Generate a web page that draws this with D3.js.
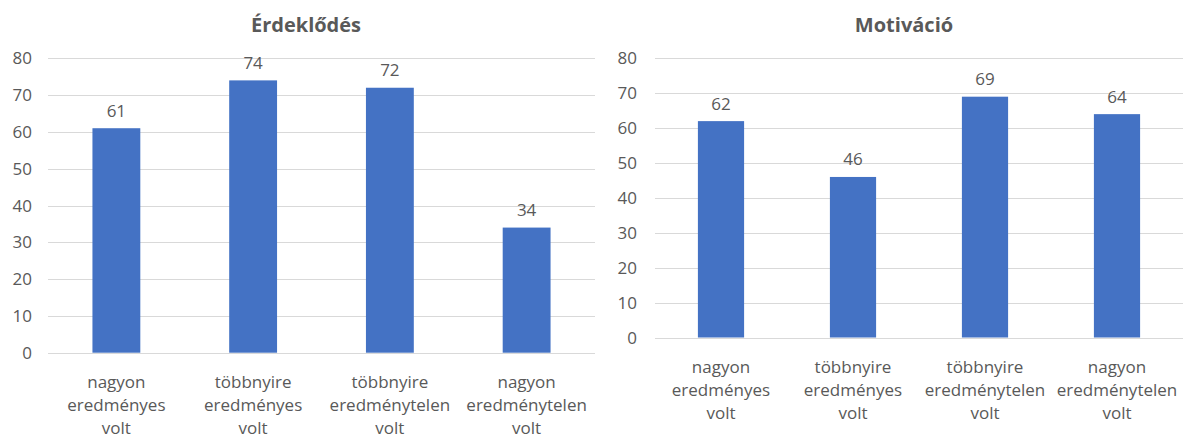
<!DOCTYPE html>
<html>
<head>
<meta charset="utf-8">
<script src="https://cdn.jsdelivr.net/npm/d3@7"></script>
<style>
  html, body { margin: 0; padding: 0; background: #ffffff; }
  svg { display: block; font-family: "Open Sans", "Noto Sans", sans-serif; }
</style>
</head>
<body>
<svg id="chart" width="1186" height="438"></svg>
<script>
const categories = [
  "nagyon eredményes volt",
  "többnyire eredményes volt",
  "többnyire eredménytelen volt",
  "nagyon eredménytelen volt"
];
const categoryLines = [
  ["nagyon", "eredményes", "volt"],
  ["többnyire", "eredményes", "volt"],
  ["többnyire", "eredménytelen", "volt"],
  ["nagyon", "eredménytelen", "volt"]
];
const erdeklodesValues = [61, 74, 72, 34];
const motivacioValues = [62, 46, 69, 64];
const yTicks = [0, 10, 20, 30, 40, 50, 60, 70, 80];
const titles = ["Érdeklődés", "Motiváció"];

const svg = d3.select("#chart");
const textColor = "#595959";
const gridColor = "#d9d9d9";
const barColor = "#4472c4";

const panels = [
  { title: titles[0], values: erdeklodesValues, x0: 48, x1: 595, yTop: 58.3, yBottom: 352.7, tickX: 32, titleX: 306 },
  { title: titles[1], values: motivacioValues, x0: 655, x1: 1183, yTop: 58.3, yBottom: 337.5, tickX: 637, titleX: 904 }
];

panels.forEach(p => {
  const g = svg.append("g");
  const x = d3.scaleBand()
    .domain(categories)
    .range([p.x0, p.x1])
    .paddingInner(0.65)
    .paddingOuter(0.325);
  const y = d3.scaleLinear().domain([0, 80]).range([p.yBottom, p.yTop]);

  // gridlines
  g.selectAll("line.grid").data(yTicks).enter().append("line")
    .attr("x1", p.x0).attr("x2", p.x1)
    .attr("y1", d => Math.round(y(d)) + 0.5).attr("y2", d => Math.round(y(d)) + 0.5)
    .attr("stroke", gridColor).attr("stroke-width", 1);

  // y tick labels
  g.selectAll("text.ytick").data(yTicks).enter().append("text")
    .attr("x", p.tickX).attr("y", d => y(d))
    .attr("dy", "0.36em")
    .attr("text-anchor", "end")
    .attr("font-size", 17).attr("fill", textColor)
    .text(d => d);

  // bars
  g.selectAll("rect.bar").data(p.values).enter().append("rect")
    .attr("x", (d, i) => x(categories[i]))
    .attr("width", x.bandwidth())
    .attr("y", d => y(d))
    .attr("height", d => y(0) - y(d))
    .attr("fill", barColor);

  // value labels
  g.selectAll("text.val").data(p.values).enter().append("text")
    .attr("x", (d, i) => x(categories[i]) + x.bandwidth() / 2)
    .attr("y", d => y(d) - 11.5)
    .attr("text-anchor", "middle")
    .attr("font-size", 17).attr("fill", textColor)
    .text(d => d);

  // x labels
  categoryLines.forEach((lines, i) => {
    const cx = x(categories[i]) + x.bandwidth() / 2;
    const t = g.append("text")
      .attr("text-anchor", "middle")
      .attr("font-size", 17).attr("fill", textColor);
    lines.forEach((ln, j) => {
      t.append("tspan")
        .attr("x", cx)
        .attr("y", p.yBottom + 29 + j * 23.3)
        .attr("dy", "0.36em")
        .text(ln);
    });
  });

  // title
  g.append("text")
    .attr("x", p.titleX).attr("y", 32)
    .attr("text-anchor", "middle")
    .attr("font-size", 20).attr("font-weight", "bold")
    .attr("fill", textColor)
    .text(p.title);
});
</script>
</body>
</html>
